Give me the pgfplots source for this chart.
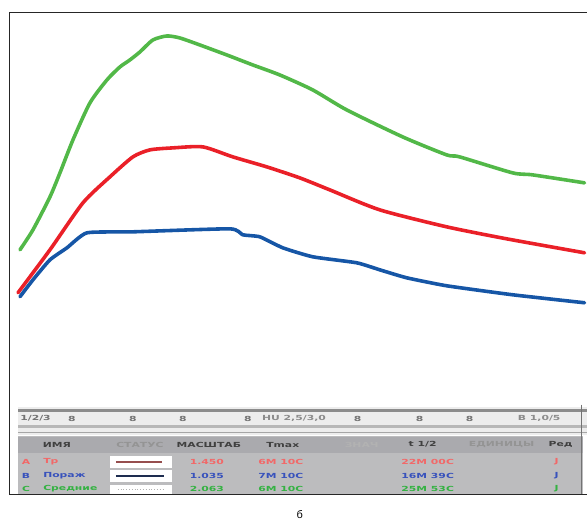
\documentclass[border=0pt]{standalone}
\usepackage{pgfplots}
\pgfplotsset{compat=1.18}
\usepackage{fontspec}
\setmainfont{Liberation Sans}
\newfontfamily\tabfont{DejaVu Sans}
\definecolor{cgreen}{RGB}{82,184,72}
\definecolor{cred}{RGB}{234,32,40}
\definecolor{cblue}{RGB}{22,86,166}
\definecolor{tgray}{RGB}{188,188,190}
\definecolor{hgray}{RGB}{170,170,174}
\definecolor{tred}{RGB}{242,104,104}
\definecolor{tblue}{RGB}{56,82,188}
\definecolor{tgreen}{RGB}{52,178,66}
\definecolor{lred}{RGB}{150,78,78}
\definecolor{lblue}{RGB}{30,45,80}
\begin{document}
\begin{tikzpicture}
\begin{axis}[
  scale only axis, width=587bp, height=524bp,
  xmin=0, xmax=587, ymin=0, ymax=524, y dir=reverse,
  axis lines=none, clip=false,
]
\path (axis cs:0,0) rectangle (axis cs:587,524);
% table area
\fill[black!7] (axis cs:18,407) rectangle (axis cs:587,435);
\fill[black!45] (axis cs:18,409) rectangle (axis cs:587,412);
\fill[black!28] (axis cs:18,425) rectangle (axis cs:587,428);
\draw[black!35,line width=0.6pt] (axis cs:18,433) -- (axis cs:587,433);
\fill[tgray] (axis cs:18,436) rectangle (axis cs:583,495);
\fill[hgray] (axis cs:18,437) rectangle (axis cs:583,453);
\draw[black!55,line width=1pt] (axis cs:582,405) -- (axis cs:582,495);
\begin{scope}[every node/.style={font=\tabfont\bfseries\fontsize{7}{7}\selectfont, xscale=1.55, inner sep=0pt}]
% ruler marks
\pgfplotsinvokeforeach{72,133,183,248,358,420,470}{
  \node[text=black!55] at (axis cs:#1,419) {8};
}
\node[text=black!55,anchor=west] at (axis cs:20,419) {1/2/3};
\node[text=black!45,anchor=west] at (axis cs:262,419) {HU 2,5/3,0};
\node[text=black!45,anchor=west] at (axis cs:518,419) {B 1,0/5};
% header
\node[text=black!75] at (axis cs:57,445) {ИМЯ};
\node[text=black!42] at (axis cs:140,445) {СТАТУС};
\node[text=black!75] at (axis cs:209,445) {МАСШТАБ};
\node[text=black!75] at (axis cs:283,445) {Tmax};
\node[text=black!30] at (axis cs:362,445) {ЗНАЧ};
\node[text=black!75] at (axis cs:423,445) {t 1/2};
\node[text=black!42] at (axis cs:502,445) {ЕДИНИЦЫ};
\node[text=black!75] at (axis cs:561,445) {Ред};
% rows
\node[text=tred] at (axis cs:26,462) {А};
\node[text=tblue] at (axis cs:26,476) {В};
\node[text=tgreen] at (axis cs:26,489) {С};
\node[text=tred,anchor=west] at (axis cs:43,462) {Тр};
\node[text=tblue,anchor=west] at (axis cs:43,476) {Пораж};
\node[text=tgreen,anchor=west] at (axis cs:43,489) {Средние};
\node[text=tred] at (axis cs:207,462) {1.450};
\node[text=tblue] at (axis cs:207,476) {1.035};
\node[text=tgreen] at (axis cs:207,489) {2.063};
\node[text=tred] at (axis cs:281,462) {6М 10С};
\node[text=tblue] at (axis cs:281,476) {7М 10С};
\node[text=tgreen] at (axis cs:281,489) {6М 10С};
\node[text=tred] at (axis cs:428,462) {22М 00С};
\node[text=tblue] at (axis cs:428,476) {16М 39С};
\node[text=tgreen] at (axis cs:428,489) {25М 53С};
\node[text=tred] at (axis cs:557,462) {J};
\node[text=tblue] at (axis cs:557,476) {J};
\node[text=tgreen] at (axis cs:557,489) {J};
\end{scope}
% legend samples
\fill[white] (axis cs:110,456) rectangle (axis cs:172,468);
\fill[white] (axis cs:110,470) rectangle (axis cs:172,482);
\fill[white] (axis cs:110,485) rectangle (axis cs:172,495);
\draw[lred,line width=2pt] (axis cs:116,462) -- (axis cs:162,462);
\draw[lblue,line width=2pt] (axis cs:116,476) -- (axis cs:164,476);
\draw[black!30,line width=0.8pt,dotted] (axis cs:118,490) -- (axis cs:164,490);
% frame
\draw[black!85,line width=0.9pt] (axis cs:587,12) -- (axis cs:9,12) -- (axis cs:9,495) -- (axis cs:587,495);
% caption
\node[font=\fontsize{11}{11}\selectfont] at (axis cs:300,515) {б};
% curves
\addplot[cgreen, line width=3.6pt, line cap=round, line join=round, smooth, tension=0.4] coordinates {
(20,250) (33,230) (50,197) (60,173) (73,140) (90,103) (107,80) (120,67) (130,60)
(140,52) (153,40) (167,36) (180,38) (200,45) (227,55) (253,65) (280,75) (313,90)
(347,110) (403,137) (447,155) (460,157) (513,173) (533,175) (585,183)};
\addplot[cred, line width=3.6pt, line cap=round, line join=round, smooth, tension=0.4] coordinates {
(18,293) (50,250) (83,203) (110,177) (133,157) (150,150) (173,148) (203,147)
(233,157) (267,167) (300,178) (330,190) (380,210) (447,227) (507,239) (585,253)};
\addplot[cblue, line width=3.6pt, line cap=round, line join=round, smooth, tension=0.3] coordinates {
(20,297) (33,280) (50,260) (67,248) (87,233) (133,232) (230,229) (243,235) (260,237)
(283,248) (313,257) (357,263) (380,270) (407,278) (447,286) (513,295) (585,303)};
\end{axis}
\end{tikzpicture}
\end{document}
